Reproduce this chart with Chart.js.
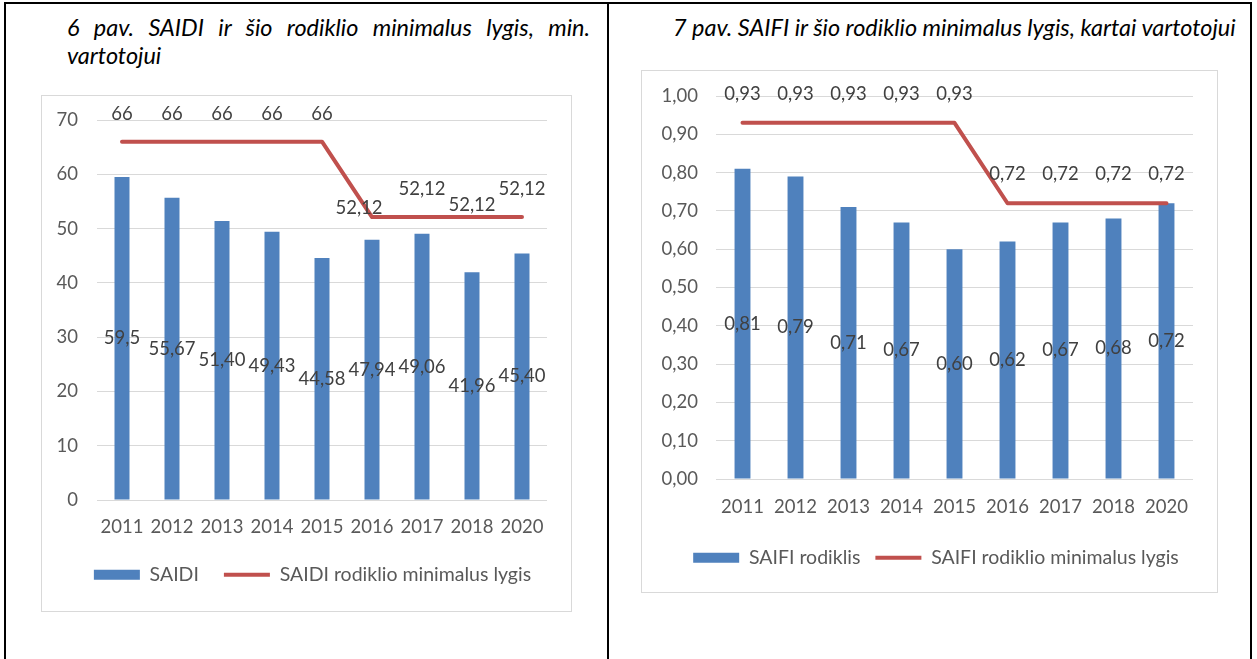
<!DOCTYPE html>
<html><head><meta charset="utf-8">
<script src="https://cdn.jsdelivr.net/npm/chart.js@4.4.0/dist/chart.umd.min.js"></script>
<style>
html,body{margin:0;padding:0;background:#fff;width:1257px;height:659px;overflow:hidden;position:relative;font-family:Lato,sans-serif}
.bl{position:absolute;background:#000}
.title{position:absolute;font-style:italic;font-family:Lato,sans-serif;color:#000;line-height:28px}
.box{position:absolute;border:1px solid #d9d9d9;box-sizing:border-box;background:#fff}
canvas{position:absolute}
</style></head><body>
<div class="bl" style="left:4px;top:2px;width:1248px;height:2px"></div>
<div class="bl" style="left:4px;top:2px;width:2px;height:657px"></div>
<div class="bl" style="left:607px;top:2px;width:2px;height:657px"></div>
<div class="bl" style="left:1250px;top:2px;width:2px;height:657px"></div>
<div id="t1a" class="title" style="left:67px;top:13px;width:523px;text-align:justify;text-align-last:justify">6 pav. SAIDI ir šio rodiklio minimalus lygis, min.</div>
<div id="t1b" class="title" style="left:67px;top:41px">vartotojui</div>
<div id="t2" class="title" style="left:673px;top:13px;white-space:nowrap">7 pav. SAIFI ir šio rodiklio minimalus lygis, kartai vartotojui</div>
<div class="box" style="left:41px;top:95px;width:531px;height:517px"></div>
<div class="box" style="left:641px;top:70px;width:577px;height:523px"></div>
<canvas id="c1" width="529" height="515" style="left:42px;top:96px;width:529px;height:515px"></canvas>
<canvas id="c2" width="575" height="521" style="left:642px;top:71px;width:575px;height:521px"></canvas>
<script>
// ---- data ----
const years = ['2011','2012','2013','2014','2015','2016','2017','2018','2020'];
const saidiValues = [59.5, 55.67, 51.40, 49.43, 44.58, 47.94, 49.06, 41.96, 45.40];
const saidiDecimals = [1, 2, 2, 2, 2, 2, 2, 2, 2];
const saidiMinimum = [66, 66, 66, 66, 66, 52.12, 52.12, 52.12, 52.12];
const saidiMinimumDecimals = [0, 0, 0, 0, 0, 2, 2, 2, 2];
const saidiTicks = [0, 10, 20, 30, 40, 50, 60, 70];
const saifiValues = [0.81, 0.79, 0.71, 0.67, 0.60, 0.62, 0.67, 0.68, 0.72];
const saifiMinimum = [0.93, 0.93, 0.93, 0.93, 0.93, 0.72, 0.72, 0.72, 0.72];
const saifiTicks = [0, 0.1, 0.2, 0.3, 0.4, 0.5, 0.6, 0.7, 0.8, 0.9, 1.0];

// ---- label placement (style, not data) ----
const saidiLineLabelOffsets = [[0,-28],[0,-28],[0,-28],[0,-28],[0,-28],[-13,-9],[0,-28],[0,-12],[0,-28]];
const saifiLineLabelOffsets = [[0,-29],[0,-29],[0,-29],[0,-29],[0,-29],[0,-29],[0,-29],[0,-29],[0,-29]];

// ---- titles font fit ----
(function(){
  const c = document.createElement('canvas').getContext('2d');
  c.font = 'italic 20px Lato';
  const w = c.measureText(document.getElementById('t2').textContent).width;
  const size = 20 * 564 / w;
  document.querySelectorAll('.title').forEach(el => el.style.fontSize = size + 'px');
})();

const FONT = 'Lato';
const FS = 18.5;
const LFS = 19.5;
const BLUE = '#4f81bd';
const RED = '#c0504d';

function fmt(v, d) { return v.toFixed(d).replace('.', ','); }

function makeLabelPlugin(barDec, lineDec, lineOffsets) {
  return {
    id: 'valueLabels',
    afterDatasetsDraw(chart) {
      const ctx = chart.ctx;
      ctx.save();
      ctx.font = FS + 'px ' + FONT;
      ctx.fillStyle = '#404040';
      ctx.textAlign = 'center';
      ctx.textBaseline = 'middle';
      chart.data.datasets.forEach((ds, di) => {
        const meta = chart.getDatasetMeta(di);
        meta.data.forEach((el, i) => {
          const v = ds.data[i];
          if (ds.type === 'bar') {
            ctx.fillText(fmt(v, barDec[i]), el.x, (el.y + el.base) / 2);
          } else {
            const o = lineOffsets[i];
            ctx.fillText(fmt(v, lineDec[i]), el.x + o[0], el.y + o[1]);
          }
        });
      });
      ctx.restore();
    }
  };
}

function makeLegendShift(dx) {
  return {
    id: 'legendShift',
    afterLayout(chart) {
      if (chart.legend) { chart.legend.left += dx; chart.legend.right += dx; }
    }
  };
}

function legendLabels(chart) {
  return chart.data.datasets.map((ds, i) => ({
    text: ds.label,
    fillStyle: ds.type === 'line' ? RED : BLUE,
    strokeStyle: ds.type === 'line' ? RED : BLUE,
    lineWidth: ds.type === 'line' ? 4 : 0,
    pointStyle: ds.type === 'line' ? 'line' : 'rect',
    hidden: false,
    datasetIndex: i,
    fontColor: '#595959'
  }));
}

function makeChart(id, cfg) {
  return new Chart(document.getElementById(id), {
    data: {
      labels: years,
      datasets: [
        { type: 'bar', label: cfg.barLabel, data: cfg.bars, backgroundColor: BLUE,
          barPercentage: 0.3, categoryPercentage: 1.0, order: 1 },
        { type: 'line', label: cfg.lineLabel, data: cfg.line, borderColor: RED, backgroundColor: RED,
          borderWidth: 4, pointRadius: 0, pointHoverRadius: 0, tension: 0,
          borderCapStyle: 'round', borderJoinStyle: 'round', order: 0 }
      ]
    },
    options: {
      responsive: false,
      animation: false,
      events: [],
      layout: { padding: cfg.padding },
      scales: {
        x: {
          grid: { display: false, drawTicks: false },
          border: { display: false },
          ticks: { color: '#595959', font: { family: FONT, size: FS }, padding: cfg.xPad, maxRotation: 0 },
          afterFit: s => { s.height = cfg.xHeight; }
        },
        y: {
          min: cfg.ticks[0], max: cfg.ticks[cfg.ticks.length - 1],
          grid: { color: '#d9d9d9', lineWidth: 1, drawTicks: false },
          border: { display: false },
          ticks: { color: '#595959', font: { family: FONT, size: FS }, padding: cfg.yPad,
                   callback: v => fmt(v, cfg.tickDec) },
          afterBuildTicks: s => { s.ticks = cfg.ticks.map(v => ({ value: v })); },
          afterFit: s => { s.width = cfg.yWidth; s.paddingTop = 0; s.paddingBottom = 0; }
        }
      },
      plugins: {
        tooltip: { enabled: false },
        legend: {
          position: 'bottom',
          labels: {
            usePointStyle: true,
            pointStyleWidth: 46,
            boxHeight: 10,
            padding: cfg.legendPad,
            color: '#595959',
            font: { family: FONT, size: LFS },
            generateLabels: legendLabels
          }
        }
      }
    },
    plugins: [makeLabelPlugin(cfg.barDec, cfg.lineDec, cfg.lineOffsets), makeLegendShift(cfg.legendDx)]
  });
}

makeChart('c1', {
  barLabel: 'SAIDI', lineLabel: 'SAIDI rodiklio minimalus lygis',
  bars: saidiValues, line: saidiMinimum, ticks: saidiTicks, tickDec: 0,
  barDec: saidiDecimals, lineDec: saidiMinimumDecimals, lineOffsets: saidiLineLabelOffsets,
  padding: { left: 0, right: 24, top: 24, bottom: 16.5 },
  yWidth: 55, yPad: 19, xHeight: 40, xPad: 16, legendPad: 25, legendDx: 18
});

makeChart('c2', {
  barLabel: 'SAIFI rodiklis', lineLabel: 'SAIFI rodiklio minimalus lygis',
  bars: saifiValues, line: saifiMinimum, ticks: saifiTicks, tickDec: 2,
  barDec: saifiValues.map(() => 2), lineDec: saifiMinimum.map(() => 2), lineOffsets: saifiLineLabelOffsets,
  padding: { left: 0, right: 24, top: 25, bottom: 14.5 },
  yWidth: 74, yPad: 18, xHeight: 54, xPad: 17, legendPad: 15, legendDx: 18.5
});
</script>
</body></html>
